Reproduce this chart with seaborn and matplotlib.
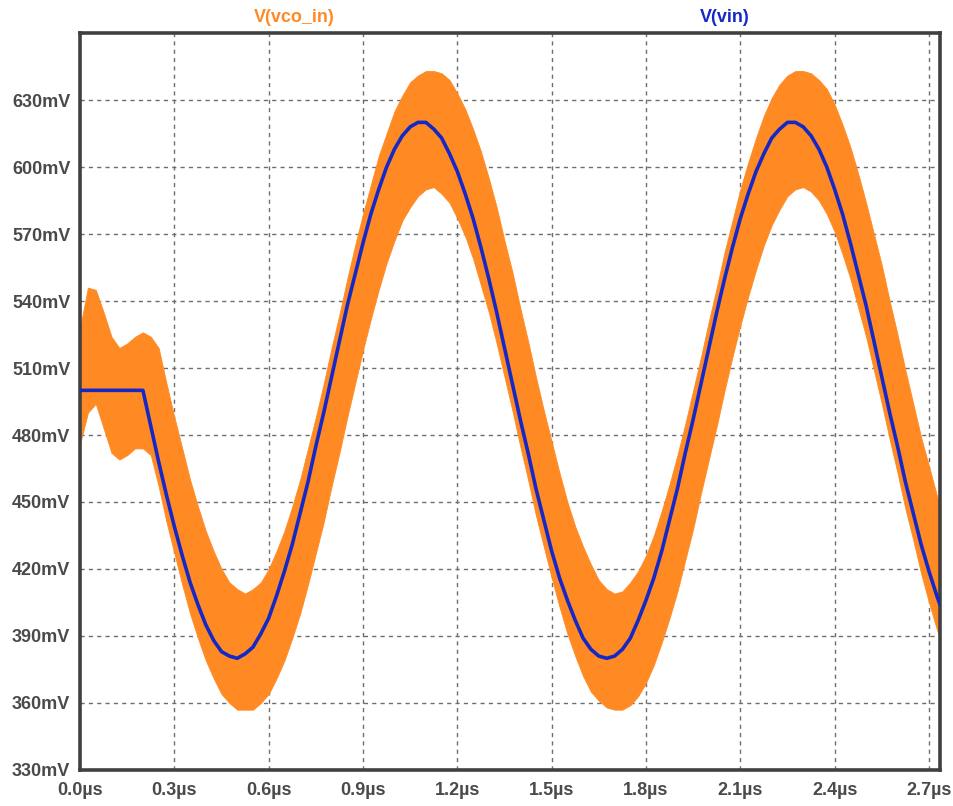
import pandas as pd
import seaborn as sns
import matplotlib
matplotlib.use('Agg')
import matplotlib.pyplot as plt

# sample times in us (every 25 ns, last point at the right edge of the window)
t_us = [0.000, 0.025, 0.050, 0.075, 0.100, 0.125, 0.150, 0.175, 0.200, 0.225,
        0.250, 0.275, 0.300, 0.325, 0.350, 0.375, 0.400, 0.425, 0.450, 0.475,
        0.500, 0.525, 0.550, 0.575, 0.600, 0.625, 0.650, 0.675, 0.700, 0.725,
        0.750, 0.775, 0.800, 0.825, 0.850, 0.875, 0.900, 0.925, 0.950, 0.975,
        1.000, 1.025, 1.050, 1.075, 1.100, 1.125, 1.150, 1.175, 1.200, 1.225,
        1.250, 1.275, 1.300, 1.325, 1.350, 1.375, 1.400, 1.425, 1.450, 1.475,
        1.500, 1.525, 1.550, 1.575, 1.600, 1.625, 1.650, 1.675, 1.700, 1.725,
        1.750, 1.775, 1.800, 1.825, 1.850, 1.875, 1.900, 1.925, 1.950, 1.975,
        2.000, 2.025, 2.050, 2.075, 2.100, 2.125, 2.150, 2.175, 2.200, 2.225,
        2.250, 2.275, 2.300, 2.325, 2.350, 2.375, 2.400, 2.425, 2.450, 2.475,
        2.500, 2.525, 2.550, 2.575, 2.600, 2.625, 2.650, 2.675, 2.700, 2.725,
        2.735]

# V(vin), mV
vin_mv = [500, 500, 500, 500, 500, 500, 500, 500, 500, 484,
          468, 453, 439, 426, 414, 404, 395, 388, 383, 381,
          380, 382, 385, 391, 398, 408, 419, 431, 445, 459,
          475, 490, 506, 522, 538, 552, 566, 579, 590, 600,
          608, 614, 618, 620, 620, 617, 613, 606, 598, 588,
          577, 564, 550, 535, 519, 503, 487, 472, 456, 442,
          428, 416, 406, 397, 389, 384, 381, 380, 381, 384,
          389, 397, 406, 416, 428, 442, 456, 472, 487, 503,
          519, 535, 550, 564, 577, 588, 598, 606, 613, 617,
          620, 620, 618, 614, 608, 600, 590, 579, 566, 552,
          538, 522, 506, 490, 475, 459, 445, 431, 419, 408,
          404]

# V(vco_in): upper / lower edge of the fast ripple band, mV
vco_hi = [528, 546, 545, 535, 524, 519, 521, 524, 526, 524,
          519, 503, 488, 474, 460, 448, 437, 428, 420, 414,
          411, 409, 411, 414, 420, 428, 437, 448, 460, 474,
          488, 503, 519, 534, 550, 565, 579, 592, 605, 615,
          625, 632, 638, 641, 643, 643, 642, 639, 633, 626,
          617, 607, 595, 582, 567, 553, 537, 522, 506, 491,
          477, 463, 450, 439, 430, 422, 415, 411, 409, 410,
          414, 419, 426, 435, 446, 458, 471, 485, 500, 515,
          531, 546, 562, 576, 590, 602, 613, 623, 631, 637,
          641, 643, 643, 642, 639, 635, 628, 619, 609, 597,
          584, 570, 556, 540, 525, 509, 494, 479, 466, 453,
          448]
vco_lo = [476, 490, 494, 483, 472, 469, 471, 474, 474, 471,
          457, 441, 427, 413, 400, 389, 379, 371, 364, 360,
          357, 357, 357, 360, 364, 371, 379, 389, 400, 413,
          427, 441, 457, 472, 488, 503, 518, 532, 545, 557,
          567, 576, 582, 587, 590, 591, 588, 584, 577, 569,
          559, 547, 535, 521, 506, 491, 475, 460, 444, 430,
          416, 403, 391, 381, 372, 365, 361, 358, 357, 357,
          359, 363, 369, 377, 387, 398, 410, 424, 438, 454,
          469, 484, 500, 515, 529, 542, 554, 565, 574, 581,
          587, 590, 591, 589, 585, 579, 571, 561, 550, 537,
          524, 509, 494, 478, 463, 447, 433, 418, 405, 393,
          389]

x_ticks = [0.0, 0.3, 0.6, 0.9, 1.2, 1.5, 1.8, 2.1, 2.4, 2.7]
x_labels = ['0.0µs', '0.3µs', '0.6µs', '0.9µs', '1.2µs', '1.5µs', '1.8µs',
            '2.1µs', '2.4µs', '2.7µs']
y_ticks = [330, 360, 390, 420, 450, 480, 510, 540, 570, 600, 630]
y_labels = ['330mV', '360mV', '390mV', '420mV', '450mV', '480mV', '510mV',
            '540mV', '570mV', '600mV', '630mV']

ORANGE = '#ff8a24'
BLUE = '#1428c8'
AXC = '#404040'

sns.set_theme(style='white')
plt.rcParams['font.family'] = ['Liberation Sans', 'DejaVu Sans']

df = pd.DataFrame({'t': t_us, 'vin': vin_mv, 'hi': vco_hi, 'lo': vco_lo})

fig = plt.figure(figsize=(9.54, 8.06), dpi=100)
ax = fig.add_axes([0.0839, 0.0447, 0.9014, 0.9143])

ax.fill_between(df['t'], df['lo'], df['hi'], color=ORANGE, linewidth=0.6,
                edgecolor=ORANGE, zorder=2)
sns.lineplot(data=df, x='t', y='vin', ax=ax, color=BLUE, linewidth=2.6, zorder=3)

ax.set_xlim(0, 2.735)
ax.set_ylim(330, 660)
ax.set_xticks(x_ticks)
ax.set_xticklabels(x_labels)
ax.set_yticks(y_ticks)
ax.set_yticklabels(y_labels)
ax.set_xlabel('')
ax.set_ylabel('')

ax.set_axisbelow(True)
ax.grid(True, color='#6e6e6e', linestyle=(0, (3, 3)), linewidth=1.0)

for s in ax.spines.values():
    s.set_visible(True)
    s.set_color(AXC)
    s.set_linewidth(2.6)

ax.tick_params(axis='both', direction='out', length=6, width=2.6, color=AXC,
               labelcolor='#4a4a4a', labelsize=13, pad=1)
ax.tick_params(axis='x', pad=3)
for lab in ax.get_xticklabels() + ax.get_yticklabels():
    lab.set_fontweight('bold')

fig.text(294 / 954, 1 - 17 / 806, 'V(vco_in)', color=ORANGE, fontsize=13,
         fontweight='bold', ha='center', va='center')
fig.text(725 / 954, 1 - 17 / 806, 'V(vin)', color=BLUE, fontsize=13,
         fontweight='bold', ha='center', va='center')

fig.savefig('out.png', dpi=100)
